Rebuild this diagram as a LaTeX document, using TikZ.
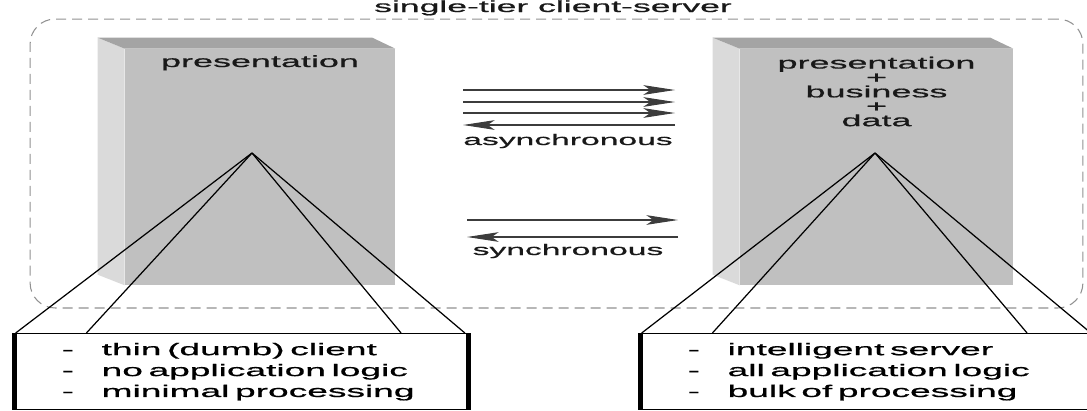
\documentclass[tikz,border=0pt]{standalone}
\usepackage{fontspec}
\newfontfamily\widesans[FakeStretch=2.2, FakeBold=0.8]{Liberation Sans}
\definecolor{facefront}{RGB}{192,192,192}
\definecolor{faceside}{RGB}{218,218,218}
\definecolor{facetop}{RGB}{164,164,164}
\definecolor{framegray}{RGB}{145,145,145}
\definecolor{msgline}{RGB}{60,60,60}
\usetikzlibrary{arrows.meta,positioning,calc}
\newcommand{\dashitem}[1]{\makebox[0.8cm][l]{-}#1}

\begin{document}
\begin{tikzpicture}[x=0.02cm, y=0.02cm,
  txt/.style={font=\widesans\fontsize{8.7}{8.2}\selectfont, text=black!90, inner sep=0pt},
  blocktxt/.style={txt, font=\widesans\fontsize{9.3}{8.2}\selectfont},
  front/.style={fill=facefront, inner sep=0pt, minimum height=4.72cm},
  fan/.style={draw=black, line width=0.7pt},
  msg/.style={draw=msgline, line width=0.6pt, -{Stealth[length=18pt, width=5.5pt, inset=4pt]}},
  listbox/.style={draw=black, line width=0.8pt, fill=white, anchor=north west,
    minimum width=9.16cm, minimum height=1.52cm, inner xsep=0.96cm, text width=7.2cm,
    align=left, font=\widesans\fontsize{9.6}{11.9}\selectfont},
  sideedge/.style={line width=3pt}]
  \useasboundingbox (0,0) rectangle (1087,410);

  %% Dashed tier frame and its title
  \node[draw=framegray, line width=0.6pt, dash pattern=on 0.2cm off 0.12cm, rounded corners=0.5cm,
    minimum width=21.06cm, minimum height=5.78cm, inner sep=0pt] (tier) at (556.5,246.5) {};
  \node[txt, font=\widesans\fontsize{9.2}{9}\selectfont, anchor=base] (title) at (553,398) {single-tier client-server};

  %% Client and server blocks
  \node[front, minimum width=5.4cm] (client) at (260,243) {};
  \node[front, minimum width=5.46cm] (server) at (876.5,243) {};
  \foreach \b in {client,server} {
    \fill[faceside] (\b.north west) -- ++(-27,11) -- ++(0,-237) -- (\b.south west) -- cycle;
    \fill[facetop] (\b.north west) -- ++(-27,11) -- ($(\b.north east)+(-23,11)$) -- (\b.north east) -- cycle;
  }
  \node[blocktxt, anchor=base] (clientlabel) at (260,343) {presentation};
  \node[blocktxt, align=center] (serverlabel) at (876.5,318.5) {presentation\\+\\business\\+\\data};

  %% Fans down to the property lists
  \coordinate (clientapex) at (252,257);
  \coordinate (serverapex) at (875,257);
  \node[listbox] (clientbox) at (12,77) {\dashitem{thin (dumb) client}\\\dashitem{no application logic}\\\dashitem{minimal processing}};
  \node[listbox] (serverbox) at (638,77) {\dashitem{intelligent server}\\\dashitem{all application logic}\\\dashitem{bulk of processing}};
  \foreach \b in {client,server} {
    \foreach \f in {0.008,0.162,0.847,0.986}
      \draw[fan] (\b apex) -- ($(\b box.north west)!\f!(\b box.north east)$);
    \draw[sideedge] ([xshift=1.5pt]\b box.north west) -- ([xshift=1.5pt]\b box.south west);
    \draw[sideedge] ([xshift=-1.5pt]\b box.north east) -- ([xshift=-1.5pt]\b box.south east);
  }

  %% Message arrows
  \coordinate (asyncw) at (463,320);
  \coordinate (asynce) at (675,320);
  \foreach \dy in {0,-12,-23}
    \draw[msg] ($(asyncw)+(0,\dy)$) -- ($(asynce)+(0,\dy)$);
  \draw[msg] ($(asynce)+(0,-35)$) -- ($(asyncw)+(0,-35)$);
  \node[txt, anchor=base] (asynclabel) at (568,265) {asynchronous};

  \coordinate (syncw) at (467,190);
  \coordinate (synce) at (678,190);
  \draw[msg] (syncw) -- (synce);
  \draw[msg] ($(synce)+(0,-17)$) -- ($(syncw)+(0,-17)$);
  \node[txt, anchor=base] (synclabel) at (568,155) {synchronous};
\end{tikzpicture}
\end{document}
